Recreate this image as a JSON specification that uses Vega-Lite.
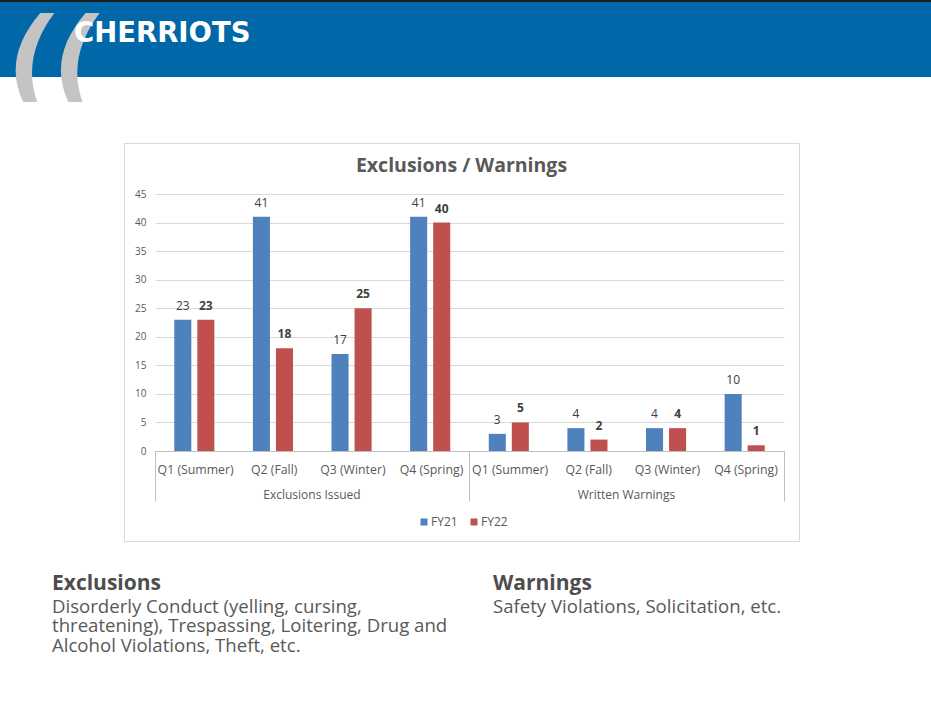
{
  "$schema": "https://vega.github.io/schema/vega-lite/v6.json",
  "padding": {"top": -5, "left": 0, "right": 0, "bottom": 0},
  "background": "white",
  "config": {"font": "Open Sans", "view": {"stroke": null}},
  "datasets": {
    "bars": [
      {"cat": "Exclusions Issued|Q1 (Summer)", "year": "FY21", "value": 23},
      {"cat": "Exclusions Issued|Q1 (Summer)", "year": "FY22", "value": 23},
      {"cat": "Exclusions Issued|Q2 (Fall)", "year": "FY21", "value": 41},
      {"cat": "Exclusions Issued|Q2 (Fall)", "year": "FY22", "value": 18},
      {"cat": "Exclusions Issued|Q3 (Winter)", "year": "FY21", "value": 17},
      {"cat": "Exclusions Issued|Q3 (Winter)", "year": "FY22", "value": 25},
      {"cat": "Exclusions Issued|Q4 (Spring)", "year": "FY21", "value": 41},
      {"cat": "Exclusions Issued|Q4 (Spring)", "year": "FY22", "value": 40},
      {"cat": "Written Warnings|Q1 (Summer)", "year": "FY21", "value": 3},
      {"cat": "Written Warnings|Q1 (Summer)", "year": "FY22", "value": 5},
      {"cat": "Written Warnings|Q2 (Fall)", "year": "FY21", "value": 4},
      {"cat": "Written Warnings|Q2 (Fall)", "year": "FY22", "value": 2},
      {"cat": "Written Warnings|Q3 (Winter)", "year": "FY21", "value": 4},
      {"cat": "Written Warnings|Q3 (Winter)", "year": "FY22", "value": 4},
      {"cat": "Written Warnings|Q4 (Spring)", "year": "FY21", "value": 10},
      {"cat": "Written Warnings|Q4 (Spring)", "year": "FY22", "value": 1}
    ],
    "none": [{"k": 1}]
  },
  "concat": [
    {"width": 124, "height": 2, "view": {"fill": "#1e1e1e"}, "data": {"name": "none"}, "mark": {"type": "text", "text": ""}},
    {"width": 675, "height": 2, "view": {"fill": "#1e1e1e"}, "data": {"name": "none"}, "mark": {"type": "text", "text": ""}},
    {"width": 132, "height": 2, "view": {"fill": "#1e1e1e"}, "data": {"name": "none"}, "mark": {"type": "text", "text": ""}},

    {"width": 124, "height": 75, "view": {"fill": "#0067a9"}, "data": {"name": "none"}, "mark": {"type": "text", "text": ""},
      "title": {"text": "((", "font": "DejaVu Sans", "fontWeight": "bold", "fontStyle": "italic", "fontSize": 99, "color": "#c4c4c4", "anchor": "start", "orient": "top", "frame": "group", "offset": -108, "dx": 8}},
    {"width": 675, "height": 75, "view": {"fill": "#0067a9"}, "data": {"name": "none"}, "mark": {"type": "text", "text": ""},
      "title": {"text": "CHERRIOTS", "font": "DejaVu Sans", "fontWeight": "bold", "fontSize": 27.5, "color": "white", "anchor": "start", "orient": "top", "frame": "group", "offset": -45, "dx": -50}},
    {"width": 132, "height": 75, "view": {"fill": "#0067a9"}, "data": {"name": "none"}, "mark": {"type": "text", "text": ""}},

    {"width": 124, "height": 66, "data": {"name": "none"}, "mark": {"type": "text", "text": ""}},
    {"width": 675, "height": 66, "data": {"name": "none"}, "mark": {"type": "text", "text": ""}},
    {"width": 132, "height": 66, "data": {"name": "none"}, "mark": {"type": "text", "text": ""}},

    {"width": 124, "height": 398, "data": {"name": "none"}, "mark": {"type": "text", "text": ""}},
    {
      "width": 675, "height": 398,
      "view": {"stroke": "#d9d9d9", "fill": "white"},
      "title": {"text": "Exclusions / Warnings", "fontSize": 19.5, "fontWeight": "bold", "color": "#595959", "anchor": "middle", "frame": "group", "offset": -33},
      "data": {"name": "bars"},
      "layer": [
        {
          "mark": {"type": "bar"},
          "encoding": {
            "x": {"field": "cat", "type": "nominal", "sort": null, "title": null,
              "scale": {"range": [31, 660], "paddingInner": 0.49, "paddingOuter": 0.245},
              "axis": {"orient": "bottom", "offset": -90, "bandPosition": 0, "tickOffset": -19.26, "ticks": true, "tickSize": 50, "tickWidth": 1,
                "tickColor": {"condition": {"test": "datum.value == 'Exclusions Issued|Q1 (Summer)'", "value": "#bfbfbf"}, "value": "transparent"},
                "labelExpr": "isString(datum.value) ? split(datum.value, '|')[1] : ''", "labelOffset": 20.05, "labelAngle": 0, "domainColor": "#bfbfbf", "labelColor": "#595959", "labelFontSize": 12.3, "labelPadding": -38, "grid": false}},
            "xOffset": {"field": "year", "type": "nominal", "scale": {"paddingInner": 0.26}},
            "y": {"field": "value", "type": "quantitative", "title": null,
              "scale": {"domain": [0, 45], "range": [308, 51], "nice": false},
              "axis": {"orient": "left", "offset": -31, "values": [0, 5, 10, 15, 20, 25, 30, 35, 40, 45], "domain": false, "ticks": false, "labelPadding": 9, "labelColor": "#595959", "labelFontSize": 10, "gridColor": "#d9d9d9"}},
            "color": {"field": "year", "type": "nominal", "scale": {"domain": ["FY21", "FY22"], "range": ["#4f81bd", "#c0504d"]},
              "legend": {"orient": "none", "legendX": 418, "legendY": 516, "direction": "horizontal", "title": null, "symbolType": "square", "symbolSize": 49, "labelFontSize": 12, "labelColor": "#595959", "columnPadding": 10, "labelOffset": 1}}
          }
        },
        {
          "transform": [{"filter": "datum.year == 'FY21'"}],
          "mark": {"type": "text", "baseline": "bottom", "dy": -7, "fontSize": 12, "color": "#404040"},
          "encoding": {
            "x": {"field": "cat", "type": "nominal", "sort": null, "title": null,
              "axis": {"orient": "bottom", "offset": -90, "domain": false, "grid": false, "bandPosition": 1, "tickOffset": 19.26, "ticks": true, "tickSize": 50, "tickWidth": 1,
                "tickColor": {"condition": {"test": "isString(datum.value) && indexof(datum.value, 'Q4') >= 0", "value": "#bfbfbf"}, "value": "transparent"},
                "labelExpr": "isString(datum.value) && indexof(datum.value, 'Q2') >= 0 ? split(datum.value, '|')[0] : ''", "labelOffset": 19.26, "labelPadding": -12, "labelColor": "#595959", "labelFontSize": 12, "labelAngle": 0}},
            "xOffset": {"field": "year", "type": "nominal"},
            "y": {"field": "value", "type": "quantitative"},
            "text": {"field": "value", "type": "quantitative"}
          }
        },
        {
          "transform": [{"filter": "datum.year == 'FY22'"}],
          "mark": {"type": "text", "baseline": "bottom", "dy": -7, "fontSize": 12, "fontWeight": "bold", "color": "#404040"},
          "encoding": {
            "x": {"field": "cat", "type": "nominal", "sort": null, "axis": null},
            "xOffset": {"field": "year", "type": "nominal"},
            "y": {"field": "value", "type": "quantitative"},
            "text": {"field": "value", "type": "quantitative"}
          }
        }
      ],
      "resolve": {"axis": {"x": "independent"}}
    },
    {"width": 132, "height": 398, "data": {"name": "none"}, "mark": {"type": "text", "text": ""}},

    {"width": 124, "height": 26, "data": {"name": "none"}, "mark": {"type": "text", "text": ""}},
    {"width": 675, "height": 26, "data": {"name": "none"}, "mark": {"type": "text", "text": ""}},
    {"width": 132, "height": 26, "data": {"name": "none"}, "mark": {"type": "text", "text": ""}},

    {"width": 124, "height": 1, "data": {"name": "none"}, "mark": {"type": "text", "text": ""},
      "title": {"text": "Exclusions", "subtitle": ["Disorderly Conduct (yelling, cursing,", "threatening), Trespassing, Loitering, Drug and", "Alcohol Violations, Theft, etc."], "orient": "bottom", "anchor": "start", "frame": "group", "offset": 0, "dx": 52, "fontSize": 21, "fontWeight": "bold", "color": "#4d4d4d", "subtitleFontSize": 18.6, "subtitleColor": "#595959", "subtitleLineHeight": 19.5, "subtitlePadding": 4, "subtitleFont": "Open Sans"}},
    {"width": 675, "height": 1, "data": {"name": "none"}, "mark": {"type": "text", "text": ""},
      "title": {"text": "Warnings", "subtitle": ["Safety Violations, Solicitation, etc."], "orient": "bottom", "anchor": "start", "frame": "group", "offset": 0, "dx": 369, "fontSize": 21, "fontWeight": "bold", "color": "#4d4d4d", "subtitleFontSize": 18.6, "subtitleColor": "#595959", "subtitleLineHeight": 19.5, "subtitlePadding": 4, "subtitleFont": "Open Sans"}},
    {"width": 132, "height": 1, "data": {"name": "none"}, "mark": {"type": "text", "text": ""}}
  ],
  "columns": 3,
  "align": "each",
  "spacing": 0,
  "bounds": "flush"
}
